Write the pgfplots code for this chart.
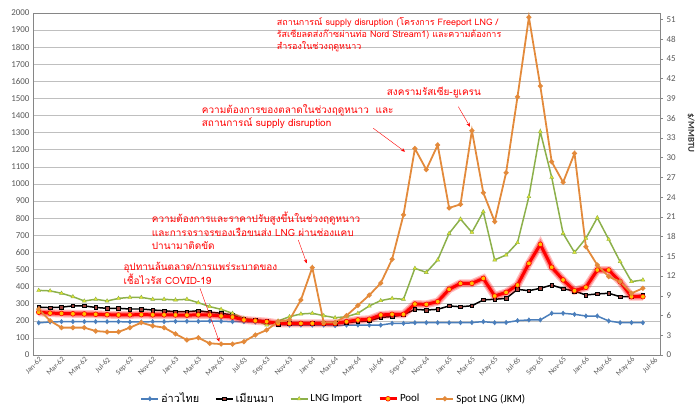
\documentclass[border=0pt]{standalone}
\usepackage{fontspec}
\setmainfont{Carlito}
\newfontfamily\thai[Script=Thai]{Loma}
\usepackage{pgfplots}
\pgfplotsset{compat=1.18}
\usepackage{pgfplotstable}
\usetikzlibrary{arrows.meta}
\definecolor{cblue}{HTML}{4A7EBB}
\definecolor{cgreen}{HTML}{8CB04A}
\definecolor{cyel}{HTML}{E6E62E}
\definecolor{corange}{HTML}{E38A3B}
\definecolor{cgrid}{HTML}{BFBFBF}
\definecolor{ctick}{HTML}{595959}
\definecolor{cbrown}{HTML}{A0403A}
\definecolor{cpoolm}{HTML}{FFC000}
\pgfplotstableread{
i thai mm lng pool spot
0 188 280 378 250 268
1 193 277 375 245 200
2 195 280 361 243 160
3 195 287 341 241 160
4 195 287 316 240 160
5 195 278 326 238 140
6 195 273 316 236 135
7 195 273 331 234 135
8 193 269 337 235 160
9 193 269 337 236 189
10 195 263 326 235 170
11 195 259 326 235 160
12 197 253 322 234 123
13 197 253 326 233 88
14 197 259 306 235 101
15 199 250 283 234 68
16 197 244 267 228 64
17 195 234 244 222 64
18 195 209 214 205 78
19 193 205 205 200 117
20 190 199 175 195 146
21 178 181 199 185 195
22 175 185 224 185 205
23 175 185 240 185 322
24 175 185 244 185 511
25 175 185 230 185 190
26 172 185 218 185 190
27 175 190 224 195 230
28 175 195 244 205 290
29 175 200 287 209 350
30 175 220 318 234 420
31 185 225 331 238 560
32 185 235 326 238 820
33 189 267 507 298 1207
34 189 263 483 296 1084
35 189 267 556 312 1228
36 189 287 711 384 860
37 189 282 795 419 881
38 190 288 717 419 1312
39 195 322 838 448 949
40 189 326 556 345 780
41 190 331 585 366 1066
42 201 384 657 409 1510
43 205 376 926 536 1975
44 205 390 1306 647 1573
45 244 409 1039 513 1130
46 244 388 711 439 1010
47 238 374 600 376 1179
48 228 351 682 396 633
49 228 357 803 497 526
50 199 361 676 497 458
51 189 341 546 429 429
52 189 341 429 341 361
53 189 351 439 341 390
}\data
\begin{document}
\begin{tikzpicture}
\begin{axis}[
  width=627bp, height=342bp, scale only axis,
  at={(33bp,56bp)}, anchor=south west,
  xmin=-0.5, xmax=54.5, ymin=0, ymax=2000,
  ytick={0,100,...,2000},
  ymajorgrids, grid style={cgrid, line width=0.6pt},
  axis line style={cgrid!70!black, line width=0.6pt},
  xtick={0,2,...,54},
  xticklabels={Jan-62,Mar-62,May-62,Jul-62,Sep-62,Nov-62,Jan-63,Mar-63,May-63,Jul-63,Sep-63,Nov-63,Jan-64,Mar-64,May-64,Jul-64,Sep-64,Nov-64,Jan-65,Mar-65,May-65,Jul-65,Sep-65,Nov-65,Jan-66,Mar-66,May-66,Jul-66},
  x tick label style={rotate=45, anchor=north east, font=\fontsize{7.5}{8}\selectfont, text=ctick, inner sep=1pt},
  y tick label style={font=\fontsize{9}{10}\selectfont, text=ctick},
  /pgf/number format/1000 sep={},
  /pgf/number format/assume math mode=true,
  tick style={draw=none},
  legend columns=5,
  legend style={draw=none, fill=none, at={(0.48,-0.128)}, anchor=center,
    font=\fontsize{11}{12}\selectfont,
    /tikz/every even column/.append style={column sep=14bp}},
  legend cell align=left,
]
\addplot[cblue, line width=1.5pt, mark=diamond*, mark size=2.3pt, mark options={solid, fill=cblue, draw=cblue, line width=0.4pt}] table[x=i, y=thai] {\data};
\addlegendentry{{\thai อ่าวไทย}}
\addplot[black, line width=1.5pt, mark=square*, mark size=1.8pt, mark options={solid, fill=cbrown, draw=black, line width=0.5pt}] table[x=i, y=mm] {\data};
\addlegendentry{{\thai เมียนมา}}
\addplot[cgreen, line width=1.5pt, mark=triangle*, mark size=2.3pt, mark options={solid, fill=cyel, draw=cgreen, line width=0.4pt}] table[x=i, y=lng] {\data};
\addlegendentry{LNG Import}
\addplot[red, opacity=0.25, line width=8pt, forget plot] table[x=i, y=pool] {\data};
\addplot[red, opacity=0.35, line width=5.5pt, forget plot] table[x=i, y=pool] {\data};
\addplot[red, line width=3pt, mark=*, mark size=2.4pt, mark options={solid, fill=cpoolm, draw=red, line width=0.6pt}] table[x=i, y=pool] {\data};
\addlegendentry{Pool}
\addplot[corange, line width=1.8pt, mark=*, mark size=1.5pt, mark options={solid, fill=corange, draw=corange}] table[x=i, y=spot] {\data};
\addlegendentry{Spot LNG (JKM)}
\end{axis}
\begin{axis}[
  width=627bp, height=342bp, scale only axis,
  at={(33bp,56bp)}, anchor=south west,
  xmin=-0.5, xmax=54.5, ymin=0, ymax=52,
  axis x line=none, axis y line*=right,
  ytick={0,3,...,51},
  axis line style={cgrid!70!black, line width=0.6pt},
  tick align=outside, major tick length=3bp,
  tick style={cgrid!70!black, line width=0.6pt},
  y tick label style={font=\fontsize{9}{10}\selectfont, text=ctick},
  /pgf/number format/assume math mode=true,
]
\addplot[draw=none] coordinates {(0,0)};
\end{axis}
\node[rotate=-90, font=\bfseries\fontsize{9}{10}\selectfont, text=black!80] at (691bp,278bp) {\$/MMBTU};
\begin{scope}[every node/.style={anchor=base west, inner sep=0pt, text=red}]
\node[font=\thai\fontsize{9}{10}\selectfont] at (276.7bp,385bp) {สถานการณ์ supply disruption (โครงการ Freeport LNG /};
\node[font=\thai\fontsize{9}{10}\selectfont] at (276.7bp,373.3bp) {รัสเซียลดส่งก๊าซผ่านท่อ Nord Stream1) และความต้องการ};
\node[font=\thai\fontsize{9}{10}\selectfont] at (276.7bp,361.6bp) {สำรองในช่วงฤดูหนาว};
\node[font=\thai\fontsize{10}{11}\selectfont] at (386.7bp,315.5bp) {สงครามรัสเซีย-ยูเครน};
\node[font=\thai\fontsize{10}{11}\selectfont] at (201.7bp,297.5bp) {ความต้องการของตลาดในช่วงฤดูหนาว\ \ และ};
\node[font=\thai\fontsize{10}{11}\selectfont] at (201.7bp,284bp) {สถานการณ์ supply disruption};
\node[font=\thai\fontsize{10}{11}\selectfont] at (151.7bp,188bp) {ความต้องการและราคาปรับสูงขึ้นในช่วงฤดูหนาว};
\node[font=\thai\fontsize{10}{11}\selectfont] at (151.7bp,174.3bp) {และการจราจรของเรือขนส่ง LNG ผ่านช่องแคบ};
\node[font=\thai\fontsize{10}{11}\selectfont] at (151.7bp,161bp) {ปานามาติดขัด};
\node[font=\thai\fontsize{10}{11}\selectfont] at (123.3bp,140bp) {อุปทานล้นตลาด/การแพร่ระบาดของ};
\node[font=\thai\fontsize{10}{11}\selectfont] at (123.3bp,126.7bp) {เชื้อไวรัส COVID-19};
\end{scope}
\begin{scope}[red, line width=0.4pt, -{Stealth[length=4bp,width=3.5bp]}]
\draw (458.3bp,304.3bp) -- (470bp,284.3bp);
\draw (373.3bp,282.7bp) -- (405bp,259.3bp);
\draw (298.3bp,171bp) -- (306.7bp,147.7bp);
\draw (200bp,122.7bp) -- (219.3bp,69.3bp);
\end{scope}
\pgfresetboundingbox
\path[use as bounding box] (0bp,0bp) rectangle (698bp,411bp);
\end{tikzpicture}
\end{document}
